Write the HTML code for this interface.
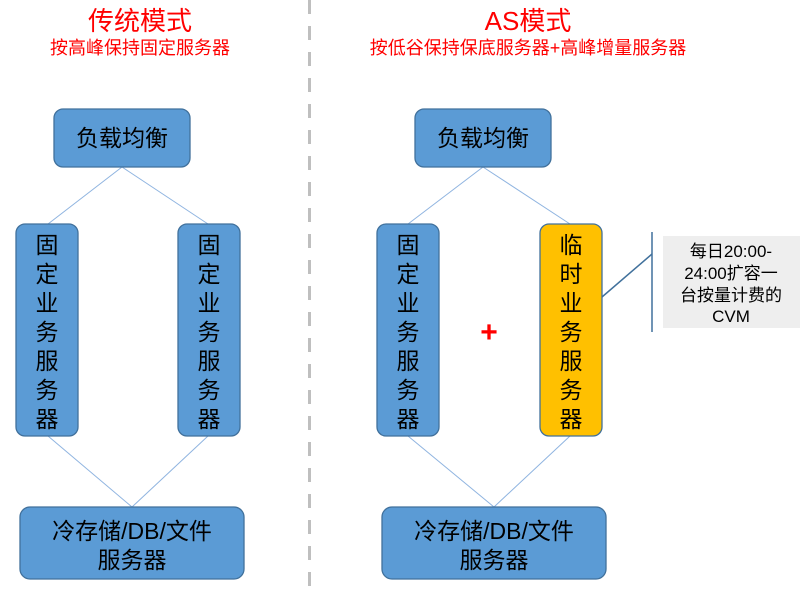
<!DOCTYPE html>
<html><head><meta charset="utf-8"><style>
body{margin:0;background:#fff;}
svg{display:block;}
text{font-family:"Liberation Sans","Noto Sans CJK SC",sans-serif;}
</style></head><body>
<svg width="800" height="594" viewBox="0 0 800 594" xmlns="http://www.w3.org/2000/svg">
<line x1="309.5" y1="0" x2="309.5" y2="594" stroke="#bfbfbf" stroke-width="3" stroke-dasharray="14,12"/>
<g fill="#ff0000" text-anchor="middle">
<text x="140" y="30" font-size="26">传统模式</text>
<text x="140" y="54" font-size="18">按高峰保持固定服务器</text>
<text x="528" y="30" font-size="26">AS模式</text>
<text x="528" y="54" font-size="18">按低谷保持保底服务器+高峰增量服务器</text>
<text x="489" y="342" font-size="30" font-weight="bold">+</text>
</g>
<g stroke="#8fb4e0" stroke-width="1">
<line x1="122" y1="167" x2="48" y2="224"/><line x1="122" y1="167" x2="208" y2="224"/>
<line x1="48" y1="436" x2="132" y2="507"/><line x1="208" y1="436" x2="132" y2="507"/>
<line x1="483" y1="167" x2="408" y2="224"/><line x1="483" y1="167" x2="570" y2="224"/>
<line x1="408" y1="436" x2="494" y2="507"/><line x1="570" y1="436" x2="494" y2="507"/>
</g>
<g stroke="#41719c" stroke-width="1.5">
<line x1="602" y1="297" x2="652" y2="254"/><line x1="652" y1="232" x2="652" y2="332"/>
</g>
<rect x="663" y="236" width="137" height="92" fill="#eeeeee"/>
<g font-size="17" text-anchor="middle" fill="#000">
<text x="731" y="257">每日20:00-</text>
<text x="731" y="279">24:00扩容一</text>
<text x="731" y="301">台按量计费的</text>
<text x="731" y="322">CVM</text>
</g>
<g stroke="#41719c" stroke-width="1.3" fill="#5b9bd5">
<rect x="54" y="109" width="136" height="58" rx="9"/>
<rect x="415" y="109" width="136" height="58" rx="9"/>
<rect x="16" y="224" width="62" height="212" rx="9"/>
<rect x="178" y="224" width="62" height="212" rx="9"/>
<rect x="377" y="224" width="62" height="212" rx="9"/>
<rect x="540" y="224" width="62" height="212" rx="9" fill="#ffc000"/>
<rect x="20" y="507" width="224" height="72" rx="10"/>
<rect x="382" y="507" width="224" height="72" rx="10"/>
</g>
<g font-size="23" text-anchor="middle" fill="#000">
<text x="122" y="146">负载均衡</text>
<text x="483" y="146">负载均衡</text>
<text x="132" y="539">冷存储/DB/文件</text><text x="132" y="568">服务器</text>
<text x="494" y="539">冷存储/DB/文件</text><text x="494" y="568">服务器</text>
</g>
<g font-size="23" text-anchor="middle" fill="#000">
<text x="47" y="253">固</text><text x="47" y="282">定</text><text x="47" y="311">业</text><text x="47" y="340">务</text><text x="47" y="369">服</text><text x="47" y="398">务</text><text x="47" y="427">器</text>
<text x="209" y="253">固</text><text x="209" y="282">定</text><text x="209" y="311">业</text><text x="209" y="340">务</text><text x="209" y="369">服</text><text x="209" y="398">务</text><text x="209" y="427">器</text>
<text x="408" y="253">固</text><text x="408" y="282">定</text><text x="408" y="311">业</text><text x="408" y="340">务</text><text x="408" y="369">服</text><text x="408" y="398">务</text><text x="408" y="427">器</text>
<text x="571" y="253">临</text><text x="571" y="282">时</text><text x="571" y="311">业</text><text x="571" y="340">务</text><text x="571" y="369">服</text><text x="571" y="398">务</text><text x="571" y="427">器</text>
</g>
</svg>
</body></html>
